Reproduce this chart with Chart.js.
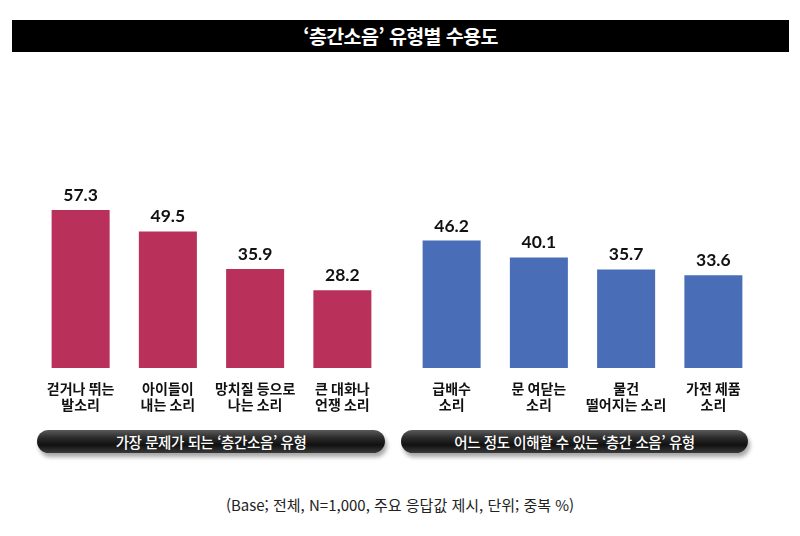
<!DOCTYPE html>
<html lang="ko">
<head>
<meta charset="utf-8">
<script src="https://cdn.jsdelivr.net/npm/chart.js@4/dist/chart.umd.min.js"></script>
<style>
  html, body { margin:0; padding:0; background:#fff; }
  body { width:800px; height:536px; position:relative; overflow:hidden; font-family:"Noto Sans CJK KR", sans-serif; }
  #title { position:absolute; left:12px; top:20px; width:777px; height:32px; background:#000; color:#fff;
           font-size:19.5px; font-weight:700; text-align:center; line-height:32px; letter-spacing:-0.6px; }
  .wrap { position:absolute; top:175px; }
  .pill { position:absolute; top:430px; height:23px; border-radius:12px; color:#fff; text-align:center;
          font-size:14.5px; font-weight:500; line-height:23px; letter-spacing:-0.4px;
          background:linear-gradient(to bottom,#5a5a5a 0%,#2a2a2a 35%,#111 65%,#3a3a3a 100%);
          box-shadow:2px 4px 4px rgba(0,0,0,0.35); }
  #note { position:absolute; left:0; width:800px; top:494px; text-align:center; font-size:15px; color:#222; }
</style>
</head>
<body>
<div id="title">‘층간소음’ 유형별 수용도</div>
<div class="wrap" style="left:37px"><canvas id="c1" width="349" height="248"></canvas></div>
<div class="wrap" style="left:408px"><canvas id="c2" width="349" height="248"></canvas></div>
<div class="pill" id="p1" style="left:37px; width:348px">가장 문제가 되는 ‘층간소음’ 유형</div>
<div class="pill" id="p2" style="left:401px; width:347px">어느 정도 이해할 수 있는 ‘층간 소음’ 유형</div>
<div id="note">(Base; 전체, N=1,000, 주요 응답값 제시, 단위; 중복 %)</div>
<script>
const problemCategories = [["걷거나 뛰는","발소리"],["아이들이","내는 소리"],["망치질 등으로","나는 소리"],["큰 대화나","언쟁 소리"]];
const problemValues = [57.3, 49.5, 35.9, 28.2];
const tolerableCategories = [["급배수","소리"],["문 여닫는","소리"],["물건","떨어지는 소리"],["가전 제품","소리"]];
const tolerableValues = [46.2, 40.1, 35.7, 33.6];

const valueLabels = {
  id:'valueLabels',
  afterDatasetsDraw(chart){
    const ctx = chart.ctx;
    ctx.save();
    ctx.font = 'bold 17.5px Lato, "Noto Sans", sans-serif';
    ctx.fillStyle = '#111';
    ctx.textAlign = 'center';
    ctx.textBaseline = 'bottom';
    chart.getDatasetMeta(0).data.forEach((bar,i)=>{
      const v = chart.data.datasets[0].data[i];
      ctx.fillText(v.toFixed(1), bar.x, bar.y - 6);
    });
    ctx.restore();
  }
};

function makeChart(id, labels, values, color){
  return new Chart(document.getElementById(id), {
    type:'bar',
    data:{ labels:labels, datasets:[{ data:values, backgroundColor:color, borderWidth:0,
           barPercentage:0.665, categoryPercentage:1 }] },
    options:{
      responsive:false, animation:false, devicePixelRatio:1,
      layout:{ padding:0 },
      plugins:{ legend:{display:false}, tooltip:{enabled:false}, title:{display:false} },
      scales:{
        y:{ display:false, min:0, max:70 },
        x:{ grid:{display:false, drawTicks:false}, border:{display:false},
            ticks:{ color:'#111', padding:13, maxRotation:0, minRotation:0, autoSkip:false,
                    font:{ family:'"Noto Sans CJK KR", sans-serif', size:14, weight:'bold', lineHeight:1.15 } },
            afterFit(scale){ scale.height = 55; scale.paddingLeft = 0; scale.paddingRight = 0; } }
      }
    },
    plugins:[valueLabels]
  });
}
makeChart('c1', problemCategories, problemValues, '#B9305A');
makeChart('c2', tolerableCategories, tolerableValues, '#4A6DB8');
</script>
</body>
</html>
